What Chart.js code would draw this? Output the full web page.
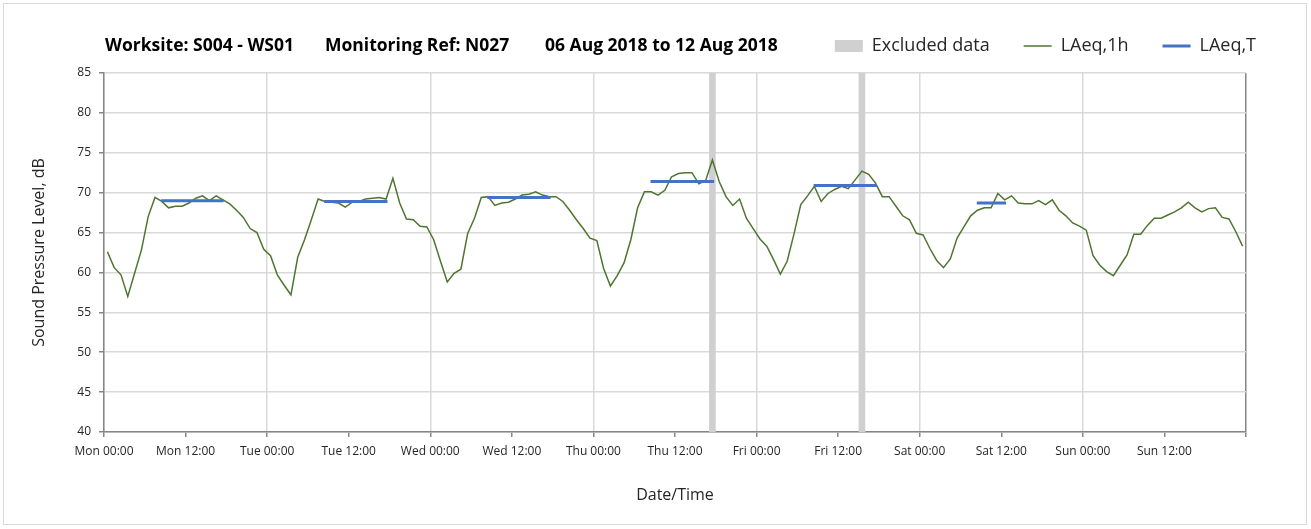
<!DOCTYPE html>
<html>
<head>
<meta charset="utf-8">
<script src="https://cdn.jsdelivr.net/npm/chart.js@4.4.1/dist/chart.umd.min.js"></script>
<style>
html,body{margin:0;padding:0;background:#fff;}
#wrap{position:relative;width:1311px;height:529px;overflow:hidden;}
#frame{position:absolute;left:3px;top:3px;width:1304px;height:522px;border:1px solid #d9d9d9;box-sizing:border-box;}
canvas{position:absolute;left:0;top:0;}
.t{position:absolute;top:32px;font-family:"Open Sans";font-weight:bold;font-size:17.5px;line-height:24px;color:#000;white-space:nowrap;}
</style>
</head>
<body>
<div id="wrap">
  <div id="frame"></div>
  <canvas id="c" width="1311" height="529"></canvas>
  <div class="t" style="left:105px">Worksite: S004 - WS01</div>
  <div class="t" style="left:325px">Monitoring Ref: N027</div>
  <div class="t" style="left:545px">06 Aug 2018 to 12 Aug 2018</div>
</div>
<script>
// ---- data ----
const xTickLabels = ['Mon 00:00','Mon 12:00','Tue 00:00','Tue 12:00','Wed 00:00','Wed 12:00',
  'Thu 00:00','Thu 12:00','Fri 00:00','Fri 12:00','Sat 00:00','Sat 12:00','Sun 00:00','Sun 12:00'];
const yTickValues = [40,45,50,55,60,65,70,75,80,85];

// hourly LAeq,1h values, Mon 00:00 .. Sun 23:00
const laeq1hMon = [62.6,60.6,59.7,57.0,59.9,62.8,67.0,69.4,68.9,68.1,68.3,68.3,68.7,69.3,69.6,69.0,69.6,69.1,68.6,67.8,66.9,65.5,65.0,62.9];
const laeq1hTue = [62.1,59.7,58.4,57.2,61.9,64.1,66.6,69.2,68.9,68.8,68.7,68.2,68.8,68.9,69.2,69.3,69.4,69.2,71.8,68.7,66.7,66.6,65.8,65.7];
const laeq1hWed = [64.1,61.4,58.8,59.9,60.4,64.9,66.8,69.4,69.5,68.4,68.7,68.8,69.2,69.7,69.8,70.1,69.7,69.5,69.5,68.9,67.8,66.6,65.5,64.3];
const laeq1hThu = [64.0,60.5,58.3,59.6,61.2,64.1,68.1,70.1,70.1,69.7,70.3,72.0,72.4,72.5,72.5,71.1,71.5,74.1,71.4,69.5,68.4,69.2,66.8,65.5];
const laeq1hFri = [64.2,63.3,61.6,59.8,61.4,64.8,68.5,69.6,70.8,68.9,69.9,70.4,70.8,70.5,71.6,72.7,72.3,71.2,69.5,69.5,68.3,67.1,66.6,64.9];
const laeq1hSat = [64.7,63.0,61.5,60.6,61.7,64.3,65.7,67.1,67.8,68.1,68.1,69.9,69.1,69.6,68.7,68.6,68.6,69.0,68.5,69.1,67.8,67.1,66.2,65.8];
const laeq1hSun = [65.3,62.1,60.9,60.1,59.6,60.9,62.2,64.8,64.8,65.9,66.8,66.8,67.2,67.6,68.1,68.8,68.1,67.6,68.0,68.1,66.9,66.7,65.1,63.3];

// excluded hours (hour index from Mon 00:00)
const excludedHours = [89, 111];

// LAeq,T daytime segments
const ltDay   = [0, 1, 2, 3, 4, 5];
const ltFrom  = [8.4, 8.4, 8.4, 8.4, 8.4, 8.4];
const ltTo    = [17.6, 17.7, 17.7, 17.75, 17.7, 12.7];
const ltValue = [69.0, 68.9, 69.4, 71.4, 70.9, 68.7];

// ---- build ----
const laeq1h = [].concat(laeq1hMon, laeq1hTue, laeq1hWed, laeq1hThu, laeq1hFri, laeq1hSat, laeq1hSun);
const lineData = laeq1h.map((v, i) => ({x: i + 0.5, y: v}));
const exclData = excludedHours.map(h => ({x: h + 0.5, y: [yTickValues[0], yTickValues[yTickValues.length - 1]]}));
const ltData = [];
ltDay.forEach((d, i) => {
  ltData.push({x: d * 24 + ltFrom[i], y: ltValue[i]});
  ltData.push({x: d * 24 + ltTo[i], y: ltValue[i]});
  ltData.push({x: d * 24 + ltTo[i] + 0.1, y: null});
});

Chart.defaults.font.family = '"Open Sans"';
Chart.defaults.color = '#262626';

const axisColor = '#868686';
const gridColor = '#d9d9d9';

new Chart(document.getElementById('c'), {
  type: 'line',
  data: {
    datasets: [
      {
        type: 'bar', label: 'Excluded data', data: exclData,
        backgroundColor: '#d0d0d0', borderWidth: 0, barThickness: 6,
        xAxisID: 'x', yAxisID: 'y', order: 3
      },
      {
        label: 'LAeq,1h', data: lineData,
        borderColor: '#4f7530', backgroundColor: '#4f7530', borderWidth: 1.5,
        pointRadius: 0, tension: 0, fill: false,
        xAxisID: 'x', yAxisID: 'y', order: 2
      },
      {
        label: 'LAeq,T', data: ltData,
        borderColor: '#4472c4', backgroundColor: '#4472c4', borderWidth: 3,
        pointRadius: 0, tension: 0, fill: false, spanGaps: false,
        xAxisID: 'x', yAxisID: 'y', order: 1
      }
    ]
  },
  options: {
    responsive: false,
    animation: false,
    devicePixelRatio: 1,
    layout: {padding: {left: 20, right: 21, top: 3, bottom: 0}},
    plugins: {
      tooltip: {enabled: false},
      title: {display: true, text: ' ', weight: 500, position: 'top', padding: 0, font: {size: 8, lineHeight: 1}},
      legend: {
        display: true, position: 'top', align: 'end',
        labels: {
          usePointStyle: true, pointStyleWidth: 28, boxHeight: 12, padding: 34,
          font: {size: 18}, color: '#262626',
          sort: (a, b) => a.datasetIndex - b.datasetIndex,
          generateLabels: (chart) => {
            const items = Chart.defaults.plugins.legend.labels.generateLabels(chart);
            items.forEach(it => {
              const ds = chart.data.datasets[it.datasetIndex];
              if (ds.type === 'bar') {
                it.pointStyle = 'rect'; it.fillStyle = ds.backgroundColor; it.lineWidth = 0;
              } else {
                it.pointStyle = 'line'; it.strokeStyle = ds.borderColor; it.lineWidth = ds.borderWidth;
              }
            });
            return items;
          }
        }
      }
    },
    scales: {
      x: {
        type: 'linear', position: 'bottom', min: 0, max: 168, offset: false,
        afterBuildTicks: (s) => { s.ticks = xTickLabels.map((l, i) => ({value: i * 12})).concat([{value: 168}]); },
        ticks: {
          autoSkip: false, maxRotation: 0, minRotation: 0, padding: 7,
          font: {size: 12}, color: '#262626',
          callback: (v) => xTickLabels[Math.round(v / 12)] || ''
        },
        grid: {
          offset: false,
          color: (ctx) => {
            const v = ctx.tick ? ctx.tick.value : -1;
            if (v === 168) return axisColor;
            return (v % 24 === 0) ? gridColor : 'rgba(0,0,0,0)';
          },
          lineWidth: 1.5, tickColor: axisColor, tickLength: 5, drawTicks: true
        },
        border: {color: axisColor, width: 1.5},
        title: {display: true, text: 'Date/Time', font: {size: 16}, color: '#262626', padding: {top: 0, bottom: 24}},
        afterFit: (s) => { s.height = 97; }
      },
      y: {
        type: 'linear', position: 'left', min: 40, max: 85,
        afterBuildTicks: (s) => { s.ticks = yTickValues.map(v => ({value: v})); },
        ticks: {padding: 8, font: {size: 12}, color: '#262626'},
        grid: {color: gridColor, lineWidth: 1.5, tickColor: axisColor, tickLength: 5},
        border: {color: axisColor, width: 1.5},
        title: {display: true, text: 'Sound Pressure Level, dB', font: {size: 16}, color: '#262626', padding: {top: 10, bottom: 0}},
        afterFit: (s) => { s.width = 84; }
      },
      y2: {
        type: 'linear', position: 'right', min: 0, max: 1, display: true,
        grid: {display: false, drawOnChartArea: false},
        ticks: {display: false},
        border: {display: false},
        afterFit: (s) => { s.width = 44; }
      }
    }
  }
});
</script>
</body>
</html>
